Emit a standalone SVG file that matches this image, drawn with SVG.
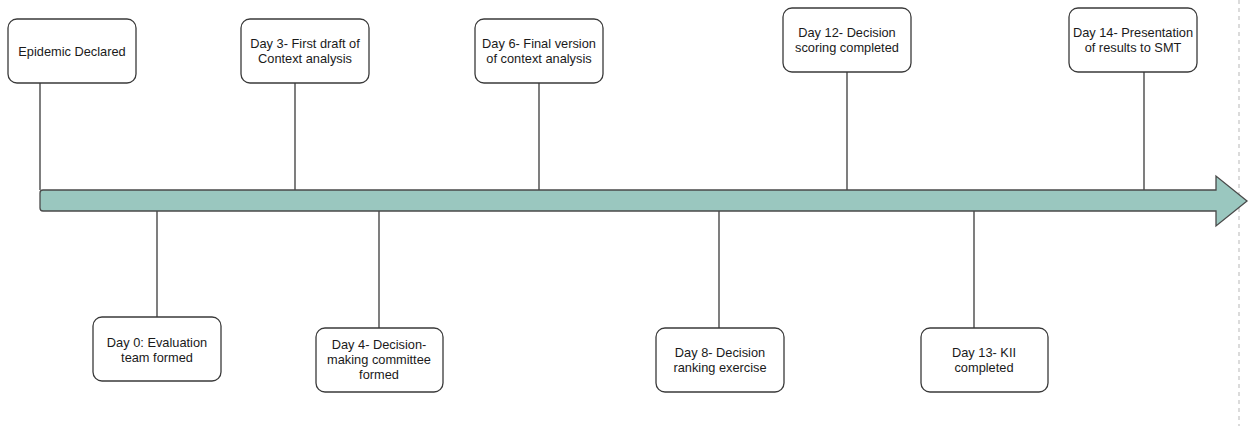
<svg xmlns="http://www.w3.org/2000/svg" width="1250" height="426" viewBox="0 0 1250 426">
<style>
.box{fill:#fff;stroke:#3a3a3a;stroke-width:1.3}
.ln{stroke:#3a3a3a;stroke-width:1.3;fill:none}
text{font-family:"Liberation Sans",Arial,sans-serif;font-size:12.8px;fill:#1a1a1a;text-anchor:middle}
</style>
<rect width="1250" height="426" fill="#fff"/>
<line x1="1239" y1="0" x2="1239" y2="426" stroke="#c8c8c8" stroke-width="1.3" stroke-dasharray="4,4"/>
<g id="connectors">
<line class="ln" x1="40" y1="83" x2="40" y2="190"/>
<line class="ln" x1="295" y1="83" x2="295" y2="190"/>
<line class="ln" x1="539" y1="83" x2="539" y2="190"/>
<line class="ln" x1="847" y1="72" x2="847" y2="190"/>
<line class="ln" x1="1144" y1="72" x2="1144" y2="190"/>
<line class="ln" x1="157" y1="211" x2="157" y2="317"/>
<line class="ln" x1="379" y1="211" x2="379" y2="328"/>
<line class="ln" x1="719" y1="211" x2="719" y2="328"/>
<line class="ln" x1="974" y1="211" x2="974" y2="328"/>
</g>
<g id="timeline">
<path d="M43,190 H1216 V176 L1247,201 L1216,226 V211 H43 Q40,211 40,208 V193 Q40,190 43,190 Z" fill="#9ac7bf" stroke="#4a4a4a" stroke-width="1.3"/>
</g>
<g id="n-epidemic"><rect class="box" x="8" y="19" width="128" height="64" rx="9"/><text x="72" y="55.5">Epidemic Declared</text></g>
<g id="n-day3"><rect class="box" x="241" y="19" width="128" height="64" rx="9"/><text x="305" y="47.5">Day 3- First draft of</text><text x="305" y="62.5">Context analysis</text></g>
<g id="n-day6"><rect class="box" x="475" y="19" width="128" height="64" rx="9"/><text x="539" y="47.5">Day 6- Final version</text><text x="539" y="62.5">of context analysis</text></g>
<g id="n-day12"><rect class="box" x="783" y="8" width="128" height="64" rx="9"/><text x="847" y="36.5">Day 12- Decision</text><text x="847" y="51.5">scoring completed</text></g>
<g id="n-day14"><rect class="box" x="1069" y="8" width="128" height="64" rx="9"/><text x="1133" y="36.5">Day 14- Presentation</text><text x="1133" y="51.5">of results to SMT</text></g>
<g id="n-day0"><rect class="box" x="93" y="317" width="128" height="64" rx="9"/><text x="157" y="346.5">Day 0: Evaluation</text><text x="157" y="361.5">team formed</text></g>
<g id="n-day4"><rect class="box" x="316" y="328" width="127" height="64" rx="9"/><text x="379" y="348.5">Day 4- Decision-</text><text x="379" y="364">making committee</text><text x="379" y="378.5">formed</text></g>
<g id="n-day8"><rect class="box" x="656" y="328" width="128" height="64" rx="9"/><text x="720" y="356.5">Day 8- Decision</text><text x="720" y="371.5">ranking exercise</text></g>
<g id="n-day13"><rect class="box" x="921" y="328" width="127" height="64" rx="9"/><text x="984" y="356.5">Day 13- KII</text><text x="984" y="371.5">completed</text></g>
</svg>
